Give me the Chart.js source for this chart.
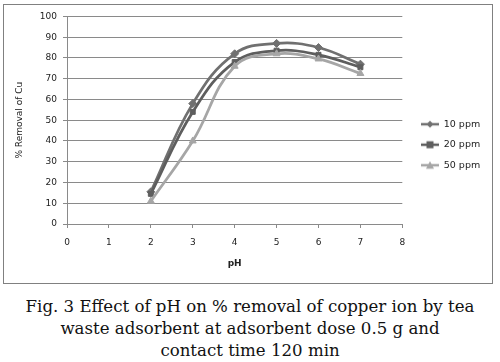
<!DOCTYPE html>
<html>
<head>
<meta charset="utf-8">
<script src="https://cdn.jsdelivr.net/npm/chart.js@4/dist/chart.umd.min.js"></script>
<style>
  body { margin: 0; background: #fff; width: 500px; height: 362px; position: relative; overflow: hidden; }
  #box { position: absolute; left: 3px; top: 4px; width: 488px; height: 278px; border: 1px solid #808080; }
  #caption { position: absolute; left: 0; top: 296px; width: 500px; text-align: center;
             font-family: "DejaVu Serif", serif; font-size: 16.6px; line-height: 22px; color: #111; }
</style>
</head>
<body>
<div id="box"><canvas id="chart" width="488" height="278"></canvas></div>
<div id="caption">Fig. 3 Effect of pH on % removal of copper ion by tea<br>waste adsorbent at adsorbent dose 0.5 g and<br>contact time 120 min</div>
<script>
// valores
const phValues = [2, 3, 4, 5, 6, 7];
const removal10 = [15.5, 58, 82, 87, 85, 77];
const removal20 = [14.5, 54, 78, 83.5, 81.5, 75.5];
const removal50 = [11, 40, 76, 82, 79.5, 72.5];
const seriesNames = ['10 ppm', '20 ppm', '50 ppm'];
const xTicks = [0, 1, 2, 3, 4, 5, 6, 7, 8];
const yTicks = [0, 10, 20, 30, 40, 50, 60, 70, 80, 90, 100];

const colors = ['#707070', '#5e5e5e', '#a6a6a6'];
const styles = ['rectRot', 'rect', 'triangle'];

function toPoints(values) {
    return phValues.map((x, i) => ({ x: x, y: values[i] }));
}

// ícone da legenda: linha com marcador no meio
function legendIcon(color, style) {
    const c = document.createElement('canvas');
    c.width = 18;
    c.height = 10;
    const g = c.getContext('2d');
    g.strokeStyle = color;
    g.fillStyle = color;
    g.lineWidth = 2.5;
    g.beginPath();
    g.moveTo(0, 5);
    g.lineTo(18, 5);
    g.stroke();
    g.beginPath();
    if (style === 'rectRot') {
        g.moveTo(9, 1.5); g.lineTo(12.5, 5); g.lineTo(9, 8.5); g.lineTo(5.5, 5);
    } else if (style === 'rect') {
        g.rect(5.5, 1.5, 7, 7);
    } else {
        g.moveTo(9, 1); g.lineTo(13, 8.5); g.lineTo(5, 8.5);
    }
    g.closePath();
    g.fill();
    return c;
}

const icons = colors.map((c, i) => legendIcon(c, styles[i]));

// posiciona a legenda como no original
const legendPlacer = {
    id: 'legendPlacer',
    afterLayout(chart) {
        const lg = chart.legend;
        const w = lg.width;
        lg.left = 406;
        lg.right = 406 + w;
        lg.top = 103.5;
        lg.bottom = 103.5 + 100;
    }
};

const font = { family: 'DejaVu Sans', size: 9 };
const gridColor = '#8a8a8a';

new Chart(document.getElementById('chart'), {
    type: 'line',
    data: {
        datasets: [removal10, removal20, removal50].map((vals, i) => ({
            label: seriesNames[i],
            data: toPoints(vals),
            borderColor: colors[i],
            backgroundColor: colors[i],
            borderWidth: 2.75,
            pointStyle: styles[i],
            pointRadius: styles[i] === 'rect' ? 3.5 : 4,
            pointBorderWidth: 1,
            tension: 0.4,
            order: 2 - i,
            fill: false
        }))
    },
    options: {
        responsive: false,
        animation: false,
        layout: { padding: { top: 11, right: 9.5, left: 0, bottom: 0 } },
        plugins: {
            legend: {
                position: 'right',
                align: 'start',
                labels: {
                    usePointStyle: true,
                    pointStyleWidth: 18,
                    padding: 11,
                    color: '#222',
                    font: { family: 'DejaVu Sans', size: 9.5 },
                    sort: (a, b) => a.datasetIndex - b.datasetIndex,
                    generateLabels: function(chart) {
                        return chart.data.datasets.map((ds, i) => ({
                            text: ds.label,
                            datasetIndex: i,
                            pointStyle: icons[i],
                            fillStyle: colors[i],
                            strokeStyle: colors[i],
                            lineWidth: 0,
                            fontColor: '#222'
                        }));
                    }
                }
            },
            tooltip: { enabled: false }
        },
        scales: {
            x: {
                type: 'linear',
                min: 0,
                max: 8,
                afterBuildTicks: axis => { axis.ticks = xTicks.map(v => ({ value: v })); },
                afterFit: axis => { axis.height = 59; },
                grid: { drawOnChartArea: false, drawTicks: true, tickLength: 4, color: gridColor },
                border: { color: gridColor },
                ticks: { color: '#222', font: font, padding: 9 },
                title: { display: true, text: 'pH', color: '#222',
                         font: { family: 'DejaVu Sans', size: 9, weight: 'bold' },
                         padding: { top: 0, bottom: 14 } }
            },
            y: {
                min: 0,
                max: 100,
                afterBuildTicks: axis => { axis.ticks = yTicks.map(v => ({ value: v })); },
                afterFit: axis => { axis.width = 63; },
                grid: { color: gridColor, tickLength: 4 },
                border: { color: gridColor },
                ticks: { color: '#222', font: font, padding: 6 },
                title: { display: true, text: '% Removal of Cu', color: '#222',
                         font: { family: 'DejaVu Sans', size: 9 },
                         padding: { top: 10, bottom: 0 } }
            }
        }
    },
    plugins: [legendPlacer]
});
</script>
</body>
</html>
